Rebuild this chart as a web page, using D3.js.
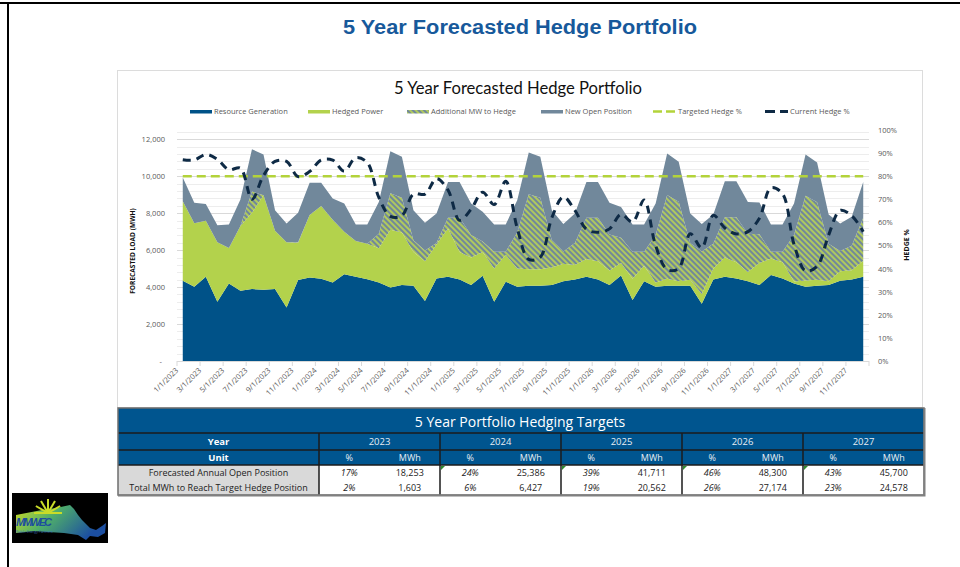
<!DOCTYPE html>
<html>
<head>
<meta charset="utf-8">
<script src="https://cdn.jsdelivr.net/npm/d3@7"></script>
<style>
  body { margin: 0; background: #fff; }
  svg { display: block; }
</style>
</head>
<body>
<svg id="page"></svg>
<script>
// ---- data ----
const months = d3.timeMonth.range(new Date(2023, 0, 1), new Date(2028, 0, 1));

const tickLabels = [
  "1/1/2023", "3/1/2023", "5/1/2023", "7/1/2023", "9/1/2023", "11/1/2023",
  "1/1/2024", "3/1/2024", "5/1/2024", "7/1/2024", "9/1/2024", "11/1/2024",
  "1/1/2025", "3/1/2025", "5/1/2025", "7/1/2025", "9/1/2025", "11/1/2025",
  "1/1/2026", "3/1/2026", "5/1/2026", "7/1/2026", "9/1/2026", "11/1/2026",
  "1/1/2027", "3/1/2027", "5/1/2027", "7/1/2027", "9/1/2027", "11/1/2027"
];

// MWh per month, stacked bottom to top
const generation = [
  4340, 4020, 4560, 3210, 4200, 3800, 3890, 3860, 3900, 2900, 4380, 4520,
  4450, 4250, 4690, 4560, 4430, 4250, 3980, 4110, 4070, 3250, 4470, 4560,
  4410, 4110, 4610, 3210, 4290, 4020, 4070, 4070, 4110, 4320, 4410, 4560,
  4410, 4110, 4630, 3300, 4320, 4020, 4070, 4070, 4070, 3100, 4410, 4560,
  4470, 4320, 4110, 4650, 4470, 4200, 4020, 4070, 4110, 4340, 4410, 4560
];
const hedgedPower = [
  4310, 3430, 3030, 3210, 1920, 3500, 4130, 5110, 3150, 3530, 2020, 3380,
  3940, 3400, 2310, 1940, 1920, 1850, 3120, 2840, 1830, 2150, 1830, 2610,
  1490, 1490, 1290, 1790, 1460, 980, 890, 900, 950, 940, 790, 960,
  990, 790, 670, 1150, 830, 230, 380, 240, 330, 530, 590, 1040,
  880, 500, 1190, 890, 880, 100, 340, 330, 210, 510, 500, 870
];
const additionalMW = [
  0, 0, 0, 0, 0, 0, 1150, 0, 0, 0, 20, 0,
  0, 0, 0, 0, 0, 790, 1980, 1890, 630, 580, 80, 580,
  1850, 1220, 560, 910, 160, 1960, 4060, 3870, 1470, 670, 1180, 2230,
  2350, 1950, 1370, 1460, 760, 2570, 4530, 4310, 1980, 2300, 1340, 2180,
  2430, 2070, 1560, 370, 560, 2520, 4580, 4190, 2020, 1100, 1330, 2320
];
const newOpenPosition = [
  1280, 1110, 900, 930, 1270, 1440, 2290, 2200, 1110, 1010, 1600, 1740,
  1250, 1140, 1520, 890, 1040, 1720, 2270, 2210, 1630, 1500, 1600, 1940,
  1940, 1700, 1610, 1480, 1480, 1740, 2260, 2210, 1630, 1480, 1600, 1940,
  1940, 1710, 1670, 1480, 1480, 1700, 2250, 2160, 1600, 1480, 1590, 1950,
  1950, 1720, 1720, 1480, 1480, 1700, 2230, 2150, 1590, 1490, 1560, 1940
];
// percent
const currentHedgePct = [
  87.1, 87.0, 89.4, 87.3, 82.8, 83.5, 70.0, 80.3, 86.4, 86.4, 79.8, 82.0,
  87.0, 87.0, 82.2, 88.0, 85.9, 70.8, 62.6, 62.9, 72.3, 72.2, 78.9, 74.0,
  60.9, 65.7, 73.1, 67.7, 77.8, 57.5, 44.0, 45.0, 62.0, 71.0, 65.2, 57.0,
  55.7, 57.2, 63.5, 60.2, 69.7, 49.9, 39.6, 40.0, 55.1, 49.0, 63.1, 57.6,
  55.0, 56.0, 61.8, 75.0, 72.4, 50.5, 39.0, 41.0, 54.5, 65.2, 62.9, 56.0
];
const targetHedgePct = 80;

// table
const tableYears = ["2023", "2024", "2025", "2026", "2027"];
const openPct = ["17%", "24%", "39%", "46%", "43%"];
const openMWh = ["18,253", "25,386", "41,711", "48,300", "45,700"];
const reachPct = ["2%", "6%", "19%", "26%", "23%"];
const reachMWh = ["1,603", "6,427", "20,562", "27,174", "24,578"];

// ---- styles ----
const COLORS = {
  generation: "#005288",
  hedged: "#b3d24c",
  open: "#71889b",
  target: "#b3d33a",
  current: "#0e2a45",
  tableBlue: "#00558f",
  text: "#595959"
};

const svg = d3.select("#page")
    .attr("width", 960)
    .attr("height", 567)
    .style("font-family", "'Open Sans', sans-serif");

const defs = svg.append("defs");
const hatch = defs.append("pattern")
    .attr("id", "hatch")
    .attr("patternUnits", "userSpaceOnUse")
    .attr("width", 4).attr("height", 4)
    .attr("patternTransform", "rotate(-45)");
hatch.append("rect").attr("width", 4).attr("height", 4).attr("fill", "#b0c95e");
hatch.append("rect").attr("width", 2).attr("height", 4).attr("fill", "#71889a");

// page frame
svg.append("rect").attr("x", 0).attr("y", 2).attr("width", 960).attr("height", 2).attr("fill", "#000");
svg.append("rect").attr("x", 7).attr("y", 2).attr("width", 2).attr("height", 565).attr("fill", "#000");

svg.append("text")
    .attr("x", 520).attr("y", 34)
    .attr("text-anchor", "middle")
    .attr("font-family", "'Liberation Sans', Arial, sans-serif")
    .attr("font-weight", "bold")
    .attr("font-size", 20)
    .attr("fill", "#17599b")
    .attr("textLength", 354)
    .attr("lengthAdjust", "spacingAndGlyphs")
    .text("5 Year Forecasted Hedge Portfolio");

// chart box
svg.append("rect")
    .attr("x", 117.5).attr("y", 70.5)
    .attr("width", 805).attr("height", 337)
    .attr("fill", "#fff")
    .attr("stroke", "#dcdcdc");

svg.append("text")
    .attr("x", 518).attr("y", 94)
    .attr("text-anchor", "middle")
    .attr("font-family", "Lato, sans-serif")
    .attr("font-size", 17)
    .attr("fill", "#111")
    .attr("textLength", 248)
    .attr("lengthAdjust", "spacingAndGlyphs")
    .text("5 Year Forecasted Hedge Portfolio");

// ---- scales ----
const plot = {left: 177, right: 869, top: 130, bottom: 361};

const x = d3.scaleBand()
    .domain(d3.range(months.length))
    .range([plot.left, plot.right]);
const xc = i => x(i) + x.bandwidth() / 2;

const y = d3.scaleLinear().domain([0, 12500]).range([plot.bottom, plot.top]);
const yPct = d3.scaleLinear().domain([0, 100]).range([plot.bottom, plot.top]);

// gridlines (minor every 400, major every 2000)
svg.append("g")
  .selectAll("line")
  .data(d3.range(400, 12500, 400))
  .join("line")
    .attr("x1", plot.left).attr("x2", plot.right)
    .attr("y1", d => Math.round(y(d)) + 0.5)
    .attr("y2", d => Math.round(y(d)) + 0.5)
    .attr("stroke", d => d % 2000 === 0 ? "#d9d9d9" : "#ededed");

// ---- stacked areas ----
const keys = ["generation", "hedged", "additional", "open"];
const rows = months.map((m, i) => ({
  generation: generation[i],
  hedged: hedgedPower[i],
  additional: additionalMW[i],
  open: newOpenPosition[i]
}));
const series = d3.stack().keys(keys)(rows);
const fills = {
  generation: COLORS.generation,
  hedged: COLORS.hedged,
  additional: "url(#hatch)",
  open: COLORS.open
};
const area = d3.area()
    .x((d, i) => xc(i))
    .y0(d => y(d[0]))
    .y1(d => y(d[1]));

svg.append("g")
  .selectAll("path")
  .data(series)
  .join("path")
    .attr("fill", d => fills[d.key])
    .attr("d", area);

// x baseline + ticks at 2-month boundaries
svg.append("line")
    .attr("x1", plot.left).attr("x2", plot.right)
    .attr("y1", plot.bottom + 0.5).attr("y2", plot.bottom + 0.5)
    .attr("stroke", "#d9d9d9");
svg.append("g")
  .selectAll("line")
  .data(d3.range(0, months.length + 1, 2))
  .join("line")
    .attr("x1", d => d < months.length ? x(d) : plot.right)
    .attr("x2", d => d < months.length ? x(d) : plot.right)
    .attr("y1", plot.bottom)
    .attr("y2", plot.bottom + 5)
    .attr("stroke", "#d9d9d9");

// ---- lines ----
const pctLine = d3.line()
    .x((d, i) => xc(i))
    .y(d => yPct(d));

svg.append("path")
    .datum(months.map(() => targetHedgePct))
    .attr("fill", "none")
    .attr("stroke", COLORS.target)
    .attr("stroke-width", 2.5)
    .attr("stroke-dasharray", "9,5")
    .attr("d", pctLine);

svg.append("path")
    .datum(currentHedgePct)
    .attr("fill", "none")
    .attr("stroke", COLORS.current)
    .attr("stroke-width", 3)
    .attr("stroke-dasharray", "8,6")
    .attr("d", pctLine.curve(d3.curveCatmullRom));

// ---- axes ----
const leftAxis = d3.axisLeft(y)
    .tickValues(d3.range(0, 12001, 2000))
    .tickSize(0)
    .tickPadding(12)
    .tickFormat(d => d === 0 ? "-" : d3.format(",")(d));
const leftG = svg.append("g")
    .attr("transform", `translate(${plot.left},0)`)
    .call(leftAxis);
leftG.select(".domain").remove();
leftG.selectAll("text")
    .attr("font-family", "'Open Sans', sans-serif")
    .attr("font-size", 7.5)
    .attr("fill", COLORS.text)
    .attr("dx", d => d === 0 ? -3 : 0);

const rightAxis = d3.axisRight(yPct)
    .tickValues(d3.range(0, 101, 10))
    .tickSize(0)
    .tickPadding(9)
    .tickFormat(d => d + "%");
const rightG = svg.append("g")
    .attr("transform", `translate(${plot.right},0)`)
    .call(rightAxis);
rightG.select(".domain").remove();
rightG.selectAll("text")
    .attr("font-family", "'Open Sans', sans-serif")
    .attr("font-size", 7.5)
    .attr("fill", COLORS.text);

const bottomAxis = d3.axisBottom(x)
    .tickValues(d3.range(0, months.length, 2))
    .tickSize(0)
    .tickFormat((d, k) => tickLabels[k]);
const bottomG = svg.append("g")
    .attr("transform", `translate(0,${plot.bottom})`)
    .call(bottomAxis);
bottomG.select(".domain").remove();
bottomG.selectAll("text")
    .attr("font-family", "'Open Sans', sans-serif")
    .attr("font-size", 7.5)
    .attr("fill", COLORS.text)
    .attr("text-anchor", "end")
    .attr("y", 0).attr("dy", 0)
    .attr("transform", "translate(-4,10) rotate(-45)");

// axis titles
svg.append("text")
    .attr("transform", "translate(135,251) rotate(-90)")
    .attr("text-anchor", "middle")
    .attr("font-size", 6.6)
    .attr("font-weight", "bold")
    .attr("fill", "#111")
    .text("FORECASTED LOAD (MWH)");
svg.append("text")
    .attr("transform", "translate(909,245) rotate(-90)")
    .attr("text-anchor", "middle")
    .attr("font-size", 7)
    .attr("font-weight", "bold")
    .attr("fill", "#111")
    .text("HEDGE %");

// ---- legend ----
const legendItems = [
  {label: "Resource Generation", kind: "swatch", fill: COLORS.generation, x: 190},
  {label: "Hedged Power", kind: "swatch", fill: COLORS.hedged, x: 308},
  {label: "Additional MW to Hedge", kind: "swatch", fill: "url(#hatch)", x: 407},
  {label: "New Open Position", kind: "swatch", fill: COLORS.open, x: 541},
  {label: "Targeted Hedge %", kind: "line", stroke: COLORS.target, width: 2.5, dash: "9,4", x: 653},
  {label: "Current Hedge %", kind: "line", stroke: COLORS.current, width: 3, dash: "10,5", x: 765}
];
const legend = svg.append("g").attr("transform", "translate(0,111.5)");
const li = legend.selectAll("g").data(legendItems).join("g")
    .attr("transform", d => `translate(${d.x},0)`);
li.filter(d => d.kind === "swatch").append("rect")
    .attr("y", -1.5).attr("width", 22).attr("height", 3.5)
    .attr("fill", d => d.fill);
li.filter(d => d.kind === "line").append("line")
    .attr("x1", 0).attr("x2", 23)
    .attr("stroke", d => d.stroke)
    .attr("stroke-width", d => d.width)
    .attr("stroke-dasharray", d => d.dash);
li.append("text")
    .attr("x", d => d.kind === "swatch" ? 24 : 25)
    .attr("y", 2.6)
    .attr("font-size", 7.5)
    .attr("fill", COLORS.text)
    .text(d => d.label);

// ---- table ----
const colX = [118, 319, 440, 561, 682, 803, 924];
const rowY = [408, 433, 450, 465, 480, 495];
const table = svg.append("g");

table.append("rect")
    .attr("x", colX[0]).attr("y", rowY[0])
    .attr("width", colX[6] - colX[0]).attr("height", rowY[3] - rowY[0])
    .attr("fill", COLORS.tableBlue);
table.append("rect")
    .attr("x", colX[0]).attr("y", rowY[3])
    .attr("width", colX[1] - colX[0]).attr("height", rowY[5] - rowY[3])
    .attr("fill", "#d9d9d9");

table.selectAll("line.h")
  .data([rowY[1], rowY[2], rowY[3]])
  .join("line")
    .attr("class", "h")
    .attr("x1", colX[0]).attr("x2", colX[6])
    .attr("y1", d => d).attr("y2", d => d)
    .attr("stroke", "#1b1b1b").attr("stroke-width", 1.3);
table.selectAll("line.v")
  .data(colX.slice(1, 6))
  .join("line")
    .attr("class", "v")
    .attr("x1", d => d).attr("x2", d => d)
    .attr("y1", rowY[1]).attr("y2", rowY[5])
    .attr("stroke", "#1b1b1b").attr("stroke-width", 1.5);
table.append("rect")
    .attr("x", colX[0]).attr("y", rowY[0])
    .attr("width", colX[6] - colX[0]).attr("height", rowY[5] - rowY[0])
    .attr("fill", "none")
    .attr("stroke", "#6d6d6d").attr("stroke-width", 1.5);
table.append("path")
    .attr("d", `M${colX[6] + 0.5},${rowY[0]} V${rowY[5] + 0.5} H${colX[0]}`)
    .attr("fill", "none")
    .attr("stroke", "#808080").attr("stroke-width", 2);

// little green error markers
table.selectAll("path.flag")
  .data(colX.slice(2, 6))
  .join("path")
    .attr("class", "flag")
    .attr("d", d => `M${d + 1},${rowY[3] + 1} h4 l-4,4 z`)
    .attr("fill", "#2f8a2f");

table.append("text")
    .attr("x", 520).attr("y", 427)
    .attr("text-anchor", "middle")
    .attr("font-size", 14)
    .attr("fill", "#fff")
    .text("5 Year Portfolio Hedging Targets");

const cellText = (tx, ty, str, opts = {}) => table.append("text")
    .attr("x", tx).attr("y", ty)
    .attr("text-anchor", "middle")
    .attr("font-size", opts.size || 9)
    .attr("font-weight", opts.bold ? "bold" : null)
    .attr("font-style", opts.italic ? "italic" : null)
    .attr("fill", opts.fill || "#222")
    .text(str);

const labelC = (colX[0] + colX[1]) / 2;
cellText(labelC, 445, "Year", {bold: true, fill: "#fff", size: 9.5});
cellText(labelC, 461, "Unit", {bold: true, fill: "#fff", size: 9.5});
cellText(labelC, 476, "Forecasted Annual Open Position");
cellText(labelC, 491, "Total MWh to Reach Target Hedge Position");

tableYears.forEach((yr, k) => {
  const x0 = colX[k + 1], x1 = colX[k + 2];
  const pc = x0 + (x1 - x0) * 0.25, mc = x0 + (x1 - x0) * 0.75;
  cellText((x0 + x1) / 2, 445, yr, {fill: "#e8eef4", size: 9.5});
  cellText(pc, 461, "%", {fill: "#e8eef4"});
  cellText(mc, 461, "MWh", {fill: "#e8eef4"});
  cellText(pc, 476, openPct[k], {italic: true});
  cellText(mc, 476, openMWh[k]);
  cellText(pc, 491, reachPct[k], {italic: true});
  cellText(mc, 491, reachMWh[k]);
});

// ---- logo ----
const logo = svg.append("g").attr("transform", "translate(12,493)");
const grad = defs.append("linearGradient").attr("id", "logoGrad")
    .attr("x1", "0").attr("y1", "0").attr("x2", "1").attr("y2", "0.4");
grad.append("stop").attr("offset", "0").attr("stop-color", "#d6df1f");
grad.append("stop").attr("offset", "0.45").attr("stop-color", "#4fae6a");
grad.append("stop").attr("offset", "1").attr("stop-color", "#1c4fa1");
logo.append("rect").attr("width", 96).attr("height", 50).attr("fill", "#000");
logo.append("path")
    .attr("d", "M4,22 L30,17 L44,15 L58,12 L62,16 L66,22 L70,27 L74,31 L78,35 L84,37 L90,33 L94,30 L93,40 L86,44 L78,43 L74,47 L66,42 L52,40 L36,39 L22,38 L4,40 Z")
    .attr("fill", "url(#logoGrad)");
logo.append("g").selectAll("line")
  .data(d3.range(7))
  .join("line")
    .attr("x1", 36).attr("y1", 20)
    .attr("x2", (d) => 36 + 14 * Math.cos(Math.PI * (1 + d / 6)))
    .attr("y2", (d) => 20 + 14 * Math.sin(Math.PI * (1 + d / 6)))
    .attr("stroke", "#c9dc28").attr("stroke-width", 2);
logo.append("text")
    .attr("x", 4).attr("y", 33)
    .attr("font-family", "'Liberation Sans', Arial, sans-serif")
    .attr("font-size", 11).attr("font-weight", "bold").attr("font-style", "italic")
    .attr("fill", "#1d4f9e")
    .attr("textLength", 36)
    .text("MMWEC");
logo.append("text")
    .attr("x", 4).attr("y", 40)
    .attr("font-size", 3.5)
    .attr("fill", "#3a6fbf")
    .text("Public Energy Partners");
</script>
</body>
</html>
